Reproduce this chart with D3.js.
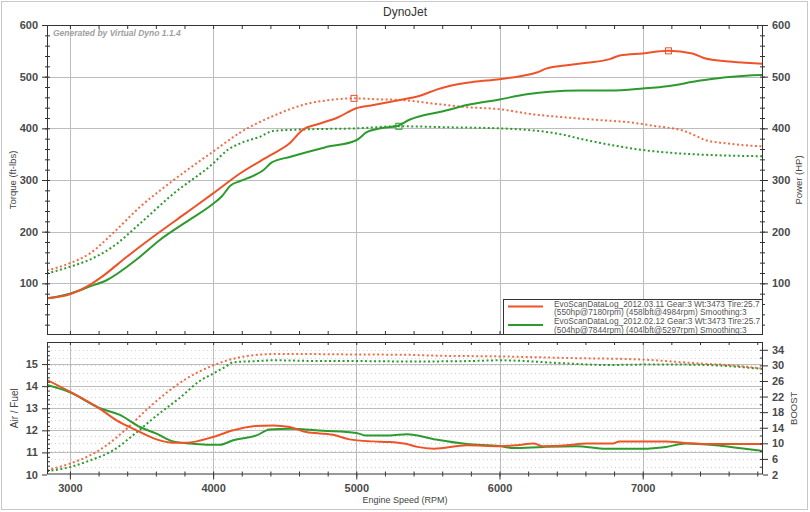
<!DOCTYPE html>
<html><head><meta charset="utf-8">
<script src="https://cdn.jsdelivr.net/npm/d3@7"></script>
<style>
html,body{margin:0;padding:0;background:#fff;}
svg{display:block;font-family:"Liberation Sans",Arial,sans-serif;}
</style></head>
<body><svg id="c" width="810" height="512"></svg>
<script>
// ---------- DATA ----------
const xTickLabels = [3000, 4000, 5000, 6000, 7000];
const topTickLabels = [100, 200, 300, 400, 500, 600];
const afrTickLabels = [10, 11, 12, 13, 14, 15];
const boostTickLabels = [2, 6, 10, 14, 18, 22, 26, 30, 34];

// Run 1 (2012.03.11) - red
const redPowerRpm = [2840,3000,3140,3210,3400,3600,3800,4000,4190,4400,4530,4630,4730,4870,5000,5120,5305,5444,5560,5650,5820,6000,6144,6260,6330,6470,6610,6770,6840,7000,7180,7347,7440,7580,7720,7835];
const redPower    = [71,79,97,110,152,194,234,274,313,348,370,398,408,421,439,445,455,463,475,482,490,495,501,508,516,522,527,534,541,545,550,545,535,530,527,525];
const redTorqueRpm = [2840,3000,3140,3300,3490,3725,4000,4190,4420,4650,4820,4984,5170,5305,5540,5773,6000,6236,6470,6700,6930,7070,7300,7390,7440,7580,7835];
const redTorque    = [125,139,158,197,248,300,355,392,424,447,455,458,456,455,448,441,437,427,421,416,411,405,394,383,377,371,365];
const redAfrRpm = [2840,3000,3093,3210,3326,3465,3605,3721,3814,4000,4140,4280,4420,4535,4651,4837,4953,5116,5232,5372,5426,5542,5773,6000,6120,6236,6305,6468,6606,6792,6838,7000,7162,7300,7440,7625,7835];
const redAfr    = [14.28,13.75,13.42,12.97,12.45,12.0,11.59,11.44,11.44,11.7,12.0,12.19,12.22,12.15,11.92,11.8,11.59,11.5,11.47,11.35,11.25,11.17,11.32,11.28,11.32,11.4,11.28,11.32,11.4,11.4,11.5,11.5,11.5,11.43,11.38,11.38,11.38];
const redBoostRpm = [2840,3000,3140,3256,3395,3535,3675,3814,4000,4140,4280,4420,4651,5000,5372,5542,6000,6468,7000,7162,7393,7625,7835];
const redBoost    = [3.1,4.8,6.9,9.5,13.7,18.6,23.0,26.6,30.0,31.7,32.6,32.9,32.9,32.8,32.7,32.5,32.3,31.9,31.5,31.1,30.5,30.0,29.2];

// Run 2 (2012.02.12) - green
const greenPowerRpm = [2840,3000,3140,3256,3465,3628,3791,4000,4060,4120,4190,4280,4350,4410,4540,4780,5000,5070,5170,5290,5375,5440,5590,5773,6000,6190,6350,6560,6770,7000,7185,7390,7580,7720,7835];
const greenPower    = [71,80,94,106,146,184,215,254,268,289,298,308,319,334,345,363,377,392,400,405,417,423,432,445,456,466,471,473,473,477,482,492,499,502,503];
const greenTorqueRpm = [2840,3000,3140,3300,3490,3725,4000,4100,4190,4330,4420,4650,5000,5297,5650,6000,6190,6400,6610,6815,7000,7230,7510,7835];
const greenTorque    = [119,132,146,171,216,274,332,358,371,384,395,398,400,404,402,400,397,390,377,366,358,352,348,346];
const greenAfrRpm = [2840,3000,3210,3349,3489,3605,3721,3838,3954,4047,4140,4303,4396,4535,4768,5000,5065,5232,5356,5542,5773,6000,6097,6305,6537,6745,7000,7162,7300,7509,7671,7835];
const greenAfr    = [14.05,13.72,13.0,12.7,12.15,11.85,11.5,11.4,11.35,11.35,11.55,11.77,12.04,12.07,11.98,11.88,11.77,11.77,11.82,11.6,11.38,11.29,11.2,11.25,11.28,11.17,11.17,11.25,11.4,11.32,11.2,11.07];
const greenBoostRpm = [2840,3000,3140,3302,3465,3605,3768,3907,4000,4093,4140,4303,4420,4768,5000,5372,5773,6000,6468,6745,7000,7278,7509,7835];
const greenBoost    = [2.85,3.9,5.6,8.2,12.8,17.1,21.7,26.0,27.9,29.8,30.8,31.1,31.3,31.1,31.1,31.0,31.1,31.3,30.5,30.1,30.2,30.2,30.0,29.1];

// peak markers [rpm, value]
const redPeakPower = [7180, 550];
const redPeakTorque = [4984, 458];
const greenPeakTorque = [5297, 404];

const legendLines = [
  "EvoScanDataLog_2012.03.11 Gear:3 Wt:3473 Tire:25.7",
  "(550hp@7180rpm) (458lbft@4984rpm) Smoothing:3",
  "EvoScanDataLog_2012.02.12 Gear:3 Wt:3473 Tire:25.7",
  "(504hp@7844rpm) (404lbft@5297rpm) Smoothing:3"
];

// ---------- LAYOUT ----------
const RED = "#ee5328", GREEN = "#2c9a2c";
const L = 47, R = 763;
const topT = 25, topB = 335;
const botT = 342, botB = 474.5;

const svg = d3.select("#c");
svg.append("rect").attr("x",1.5).attr("y",1.5).attr("width",806).attr("height",508)
  .attr("fill","#fff").attr("stroke","#c8c8c8").attr("stroke-width",1);

const x = d3.scaleLinear().domain([2840, 7840]).range([L, R]);
const yTop = d3.scaleLinear().domain([0, 600]).range([topB, topT]);
const yAfr = d3.scaleLinear().domain([10, 16]).range([botB, botT]);
const yBoost = d3.scaleLinear().domain([2, 36]).range([botB, botT]);
const fmt = d3.format("d");

const defs = svg.append("defs");
defs.append("clipPath").attr("id","clipTop").append("rect").attr("x",L).attr("y",topT).attr("width",R-L).attr("height",topB-topT);
defs.append("clipPath").attr("id","clipBot").append("rect").attr("x",L).attr("y",botT).attr("width",R-L).attr("height",botB-botT);

const gridCol = "#bdbdbd";
// ---- top grid
const gTop = svg.append("g");
gTop.selectAll(".hg").data([100,200,300,400,500]).join("line")
  .attr("x1",L).attr("x2",R).attr("y1",d=>Math.round(yTop(d))+0.5).attr("y2",d=>Math.round(yTop(d))+0.5)
  .attr("stroke",gridCol);
gTop.selectAll(".vg").data(xTickLabels).join("line")
  .attr("y1",topT).attr("y2",topB).attr("x1",d=>Math.round(x(d))+0.5).attr("x2",d=>Math.round(x(d))+0.5)
  .attr("stroke",gridCol);

// ---- bottom grid
const gBot = svg.append("g");
gBot.selectAll(".bd").data(d3.range(4, 36, 2)).join("line")
  .attr("x1",L).attr("x2",R).attr("y1",d=>Math.round(yBoost(d))+0.5).attr("y2",d=>Math.round(yBoost(d))+0.5)
  .attr("stroke","#d4d4d4").attr("stroke-dasharray","1,3");
gBot.selectAll(".ba").data([11,12,13,14,15]).join("line")
  .attr("x1",L).attr("x2",R).attr("y1",d=>Math.round(yAfr(d))+0.5).attr("y2",d=>Math.round(yAfr(d))+0.5)
  .attr("stroke",gridCol);
gBot.selectAll(".bv").data(xTickLabels).join("line")
  .attr("y1",botT).attr("y2",botB).attr("x1",d=>Math.round(x(d))+0.5).attr("x2",d=>Math.round(x(d))+0.5)
  .attr("stroke",gridCol);

// ---- watermark
svg.append("text").attr("x",53).attr("y",36).text("Generated by Virtual Dyno 1.1.4")
  .attr("font-size",8.5).attr("font-style","italic").attr("font-weight","bold").attr("fill","#a0a0a0");

// ---- lines
function mk(rpms, vals, y){
  const pts = rpms.map((r,i)=>[r, vals[i]]);
  return d3.line().x(d=>x(d[0])).y(d=>y(d[1])).curve(d3.curveMonotoneX)(pts);
}
const lt = svg.append("g").attr("clip-path","url(#clipTop)");
const dotted = "2,2.5";
lt.append("path").attr("d",mk(greenTorqueRpm,greenTorque,yTop)).attr("fill","none").attr("stroke",GREEN).attr("stroke-width",2).attr("stroke-dasharray",dotted);
lt.append("path").attr("d",mk(redTorqueRpm,redTorque,yTop)).attr("fill","none").attr("stroke",RED).attr("stroke-width",2).attr("stroke-dasharray",dotted).attr("opacity",0.85);
lt.append("path").attr("d",mk(greenPowerRpm,greenPower,yTop)).attr("fill","none").attr("stroke",GREEN).attr("stroke-width",2);
lt.append("path").attr("d",mk(redPowerRpm,redPower,yTop)).attr("fill","none").attr("stroke",RED).attr("stroke-width",2);

function marker(p, col){
  lt.append("rect").attr("x",x(p[0])-3).attr("y",yTop(p[1])-3).attr("width",6).attr("height",6)
    .attr("fill","none").attr("stroke",col).attr("stroke-width",1);
}
marker(redPeakPower, RED); marker(redPeakTorque, RED); marker(greenPeakTorque, GREEN);

const lb = svg.append("g").attr("clip-path","url(#clipBot)");
lb.append("path").attr("d",mk(greenBoostRpm,greenBoost,yBoost)).attr("fill","none").attr("stroke",GREEN).attr("stroke-width",2).attr("stroke-dasharray",dotted);
lb.append("path").attr("d",mk(redBoostRpm,redBoost,yBoost)).attr("fill","none").attr("stroke",RED).attr("stroke-width",2).attr("stroke-dasharray",dotted).attr("opacity",0.85);
lb.append("path").attr("d",mk(greenAfrRpm,greenAfr,yAfr)).attr("fill","none").attr("stroke",GREEN).attr("stroke-width",2);
lb.append("path").attr("d",mk(redAfrRpm,redAfr,yAfr)).attr("fill","none").attr("stroke",RED).attr("stroke-width",2);

// ---- frames
const frameCol = "#333";
svg.append("rect").attr("x",L+0.5).attr("y",topT+0.5).attr("width",R-L-1).attr("height",topB-topT-1).attr("fill","none").attr("stroke",frameCol);
svg.append("rect").attr("x",L+0.5).attr("y",botT+0.5).attr("width",R-L-1).attr("height",botB-botT-1).attr("fill","none").attr("stroke",frameCol);

// ---- axes
const labStyle = g => g.selectAll("text").attr("font-size",11).attr("font-weight","bold").attr("fill","#4a4a4a").attr("font-family","Liberation Sans, Arial, sans-serif");
const clean = g => { g.select(".domain").remove(); g.selectAll("line").attr("stroke",frameCol); };
const minorRpm = d3.range(2900, 7840, 100).filter(d=>d%200===0);

// top panel
svg.append("g").attr("transform",`translate(${L},0)`).call(d3.axisLeft(yTop).tickValues(topTickLabels).tickFormat(fmt).tickSize(5).tickPadding(4)).call(clean).call(labStyle);
svg.append("g").attr("transform",`translate(${L},0)`).call(d3.axisLeft(yTop).tickValues(d3.range(20,600,20)).tickSizeInner(-3).tickSizeOuter(0).tickFormat("")).call(clean);
svg.append("g").attr("transform",`translate(${L},0)`).call(d3.axisLeft(yTop).tickValues(d3.range(20,600,20)).tickSizeInner(2).tickSizeOuter(0).tickFormat("")).call(clean);
svg.append("g").attr("transform",`translate(${R},0)`).call(d3.axisRight(yTop).tickValues(topTickLabels).tickFormat(fmt).tickSize(5).tickPadding(4)).call(clean).call(labStyle);
svg.append("g").attr("transform",`translate(${R},0)`).call(d3.axisRight(yTop).tickValues(d3.range(20,600,20)).tickSizeInner(-3).tickSizeOuter(0).tickFormat("")).call(clean);
svg.append("g").attr("transform",`translate(${R},0)`).call(d3.axisRight(yTop).tickValues(d3.range(20,600,20)).tickSizeInner(2).tickSizeOuter(0).tickFormat("")).call(clean);
svg.append("g").attr("transform",`translate(0,${topT})`).call(d3.axisTop(x).tickValues(minorRpm).tickSizeInner(-4).tickSizeOuter(0).tickFormat("")).call(clean);
svg.append("g").attr("transform",`translate(0,${topB})`).call(d3.axisBottom(x).tickValues(minorRpm).tickSizeInner(-4).tickSizeOuter(0).tickFormat("")).call(clean);

// bottom panel
svg.append("g").attr("transform",`translate(${L},0)`).call(d3.axisLeft(yAfr).tickValues(afrTickLabels).tickFormat(fmt).tickSize(5).tickPadding(4)).call(clean).call(labStyle);
svg.append("g").attr("transform",`translate(${L},0)`).call(d3.axisLeft(yAfr).tickValues(d3.range(10.2,16,0.2)).tickSizeInner(-3).tickSizeOuter(0).tickFormat("")).call(clean);
svg.append("g").attr("transform",`translate(${R},0)`).call(d3.axisRight(yBoost).tickValues(boostTickLabels).tickFormat(fmt).tickSize(5).tickPadding(4)).call(clean).call(labStyle);
svg.append("g").attr("transform",`translate(${R},0)`).call(d3.axisRight(yBoost).tickValues(d3.range(4,36,2)).tickSizeInner(-3).tickSizeOuter(0).tickFormat("")).call(clean);
svg.append("g").attr("transform",`translate(0,${botT})`).call(d3.axisTop(x).tickValues(minorRpm).tickSizeInner(-3).tickSizeOuter(0).tickFormat("")).call(clean);
svg.append("g").attr("transform",`translate(0,${botB})`).call(d3.axisBottom(x).tickValues(xTickLabels).tickFormat(fmt).tickSize(5).tickPadding(5)).call(clean).call(labStyle);
svg.append("g").attr("transform",`translate(0,${botB})`).call(d3.axisBottom(x).tickValues(minorRpm).tickSizeInner(-3).tickSizeOuter(0).tickFormat("")).call(clean);
svg.append("g").attr("transform",`translate(0,${botB})`).call(d3.axisBottom(x).tickValues(minorRpm).tickSizeInner(2).tickSizeOuter(0).tickFormat("")).call(clean);

// ---- titles
svg.append("text").attr("x",405).attr("y",16).attr("text-anchor","middle").attr("font-size",12).attr("fill","#333").text("DynoJet");
svg.append("text").attr("x",405).attr("y",503).attr("text-anchor","middle").attr("font-size",9).attr("fill","#444").text("Engine Speed (RPM)");
svg.append("text").attr("transform",`translate(16,${(topT+topB)/2}) rotate(-90)`).attr("text-anchor","middle").attr("font-size",9.5).attr("fill","#444").text("Torque (ft-lbs)");
svg.append("text").attr("transform",`translate(802,${(topT+topB)/2}) rotate(-90)`).attr("text-anchor","middle").attr("font-size",9.5).attr("fill","#444").text("Power (HP)");
svg.append("text").attr("transform",`translate(18,${(botT+botB)/2}) rotate(-90)`).attr("text-anchor","middle").attr("font-size",10).attr("fill","#444").text("Air / Fuel");
svg.append("text").attr("transform",`translate(797,${(botT+botB)/2}) rotate(-90)`).attr("text-anchor","middle").attr("font-size",9.5).attr("fill","#444").text("BOOST");

// ---- legend
const lg = svg.append("g");
lg.append("rect").attr("x",503.5).attr("y",299.5).attr("width",R-504).attr("height",topB-300).attr("fill","#fff").attr("stroke",frameCol);
[[RED,306.5],[GREEN,325]].forEach(([c,yy])=>{
  lg.append("line").attr("x1",508).attr("x2",543).attr("y1",yy).attr("y2",yy).attr("stroke",c).attr("stroke-width",2);
});
legendLines.forEach((t,i)=>{
  lg.append("text").attr("x",554).attr("y",306.5+i*8.7).attr("font-size",8.3).attr("fill","#555").text(t);
});
</script></body></html>
